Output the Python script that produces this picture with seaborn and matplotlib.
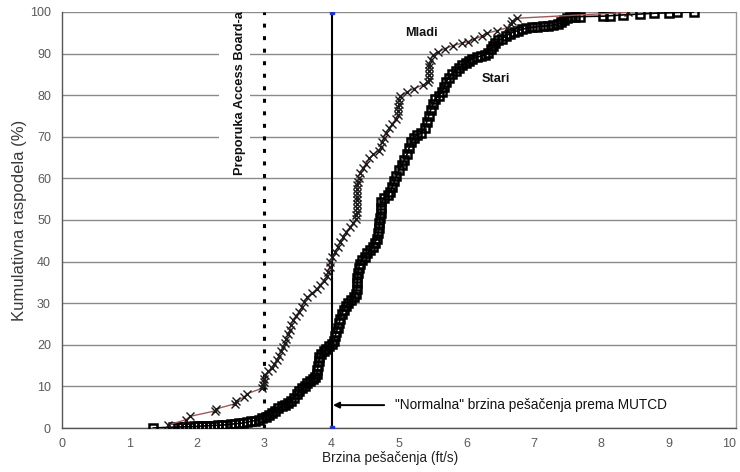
import matplotlib
matplotlib.use("Agg")
import matplotlib.pyplot as plt
from matplotlib.patches import Rectangle
import seaborn as sns
import pandas as pd

# Cumulative walking-speed distribution, older pedestrians ("Stari")
stari_speed = [1.35, 1.65, 1.72, 1.78, 1.84, 1.90, 1.96, 2.02, 2.08, 2.14, 2.20, 2.26, 2.32,
               2.38, 2.44, 2.50, 2.56, 2.62, 2.68, 2.74, 2.80, 2.86, 2.92, 2.97, 3.02, 3.07,
               3.12, 3.16, 3.21, 3.26, 3.31, 3.36, 3.40, 3.44, 3.48, 3.52, 3.56, 3.60, 3.64,
               3.68, 3.72, 3.76, 3.78, 3.79, 3.80, 3.81, 3.82, 3.84, 3.88, 3.92, 3.96, 4.00,
               4.03, 4.05, 4.07, 4.09, 4.11, 4.13, 4.15, 4.18, 4.21, 4.25, 4.29, 4.33, 4.36,
               4.37, 4.38, 4.38, 4.39, 4.40, 4.42, 4.45, 4.49, 4.53, 4.57, 4.61, 4.64, 4.67,
               4.69, 4.70, 4.71, 4.72, 4.73, 4.73, 4.74, 4.78, 4.83, 4.87, 4.90, 4.93, 4.96,
               5.00, 5.04, 5.08, 5.12, 5.15, 5.18, 5.22, 5.27, 5.33, 5.38, 5.41, 5.44, 5.47,
               5.50, 5.54, 5.59, 5.64, 5.67, 5.70, 5.74, 5.79, 5.84, 5.89, 5.94, 5.99, 6.04,
               6.09, 6.15, 6.21, 6.27, 6.32, 6.36, 6.39, 6.42, 6.47, 6.53, 6.59, 6.64, 6.70,
               6.76, 6.82, 6.89, 6.97, 7.05, 7.13, 7.21, 7.29, 7.36, 7.41, 7.45, 7.49, 7.54,
               7.61, 7.69, 8.03, 8.13, 8.33, 8.57, 8.79, 9.00, 9.12, 9.37]
stari_pct = [0.0, 0.2, 0.2, 0.3, 0.3, 0.3, 0.4, 0.4, 0.5, 0.5, 0.6, 0.6, 0.7,
             0.7, 0.8, 0.9, 1.0, 1.1, 1.2, 1.4, 1.6, 1.8, 2.0, 2.3, 2.7, 3.1,
             3.6, 4.1, 4.7, 5.2, 5.6, 5.9, 6.5, 7.3, 8.1, 8.9, 9.5, 10.1, 10.7,
             11.2, 11.7, 12.3, 13.0, 14.0, 15.0, 16.0, 17.0, 17.8, 18.5, 19.1, 19.6, 20.2,
             21.0, 22.0, 23.0, 24.1, 25.2, 26.3, 27.3, 28.4, 29.3, 30.0, 30.7, 31.4, 32.3,
             33.5, 34.8, 36.0, 37.2, 38.4, 39.5, 40.4, 41.2, 42.0, 42.8, 43.6, 44.5, 45.5,
             46.8, 48.0, 49.2, 50.5, 51.8, 53.0, 54.3, 55.2, 55.9, 56.8, 58.0, 59.3, 60.6,
             62.0, 63.2, 64.4, 65.8, 67.3, 68.7, 69.8, 70.5, 71.0, 72.0, 73.5, 75.0, 76.5,
             77.8, 79.0, 79.9, 80.8, 82.0, 83.2, 84.2, 85.0, 85.8, 86.5, 87.2, 87.8, 88.3,
             88.8, 89.1, 89.4, 89.7, 90.2, 91.0, 91.8, 92.6, 93.2, 93.6, 94.2, 94.8, 95.2,
             95.5, 95.8, 96.1, 96.3, 96.5, 96.6, 96.7, 96.8, 97.1, 97.5, 98.1, 98.6, 98.8,
             98.9, 98.9, 99.0, 99.1, 99.3, 99.5, 99.7, 99.8, 99.9, 100.0]

# Cumulative walking-speed distribution, younger pedestrians ("Mladi")
mladi_speed = [1.57, 1.84, 1.90, 2.27, 2.29, 2.56, 2.58, 2.70, 2.74, 2.96, 2.98, 2.99, 3.00,
               3.01, 3.06, 3.11, 3.15, 3.19, 3.22, 3.25, 3.28, 3.31, 3.33, 3.36, 3.38, 3.40,
               3.43, 3.47, 3.52, 3.56, 3.59, 3.64, 3.71, 3.78, 3.83, 3.88, 3.93, 3.95, 3.97,
               3.98, 4.01, 4.05, 4.09, 4.13, 4.17, 4.21, 4.27, 4.32, 4.36, 4.36, 4.37, 4.37,
               4.37, 4.37, 4.38, 4.38, 4.38, 4.38, 4.39, 4.40, 4.42, 4.46, 4.51, 4.56, 4.62,
               4.70, 4.73, 4.75, 4.77, 4.80, 4.85, 4.90, 4.95, 4.98, 4.99, 4.99, 5.00, 5.00,
               5.02, 5.12, 5.22, 5.35, 5.43, 5.44, 5.44, 5.44, 5.45, 5.45, 5.47, 5.50, 5.58,
               5.68, 5.80, 5.93, 6.03, 6.12, 6.23, 6.30, 6.45, 6.60, 6.66, 6.68, 6.75, 8.40]
mladi_pct = [0.7, 2.0, 2.8, 4.1, 4.6, 5.8, 6.5, 7.4, 8.2, 9.5, 10.3, 11.1, 11.9,
             12.7, 13.6, 14.5, 15.4, 16.4, 17.4, 18.4, 19.4, 20.4, 21.4, 22.5, 23.6, 24.8,
             26.0, 27.0, 28.0, 29.2, 30.4, 31.5, 32.4, 33.4, 34.4, 35.4, 36.5, 37.6, 38.7,
             39.8, 41.0, 42.2, 43.4, 44.6, 45.8, 47.0, 48.2, 49.2, 50.2, 51.1, 52.0, 52.9,
             53.8, 54.7, 55.6, 56.5, 57.4, 58.3, 59.2, 60.2, 61.3, 62.4, 63.5, 64.8, 65.8,
             66.6, 67.6, 68.7, 69.8, 70.9, 72.0, 73.0, 74.2, 75.3, 76.2, 77.1, 78.0, 78.9,
             79.8, 80.8, 81.6, 82.4, 83.1, 84.0, 84.9, 85.8, 86.7, 87.6, 88.5, 89.6, 90.4,
             91.2, 91.9, 92.5, 92.9, 93.5, 94.2, 94.9, 95.5, 96.2, 97.0, 97.8, 98.5, 99.9]

x_ticks = list(range(0, 11))
y_ticks = list(range(0, 101, 10))

access_board_speed = 3.0   # recommended design speed, ft/s
mutcd_speed = 4.0          # "normal" MUTCD walking speed, ft/s

sns.set_theme(style="white")
plt.rcParams["font.family"] = ["Liberation Sans", "DejaVu Sans"]

fig = plt.figure(figsize=(7.4, 4.72), dpi=100)
ax = fig.add_axes([0.0838, 0.0932, 0.9108, 0.8814])

stari = pd.DataFrame({"speed": stari_speed, "pct": stari_pct})
mladi = pd.DataFrame({"speed": mladi_speed, "pct": mladi_pct})

sns.lineplot(data=stari, x="speed", y="pct", ax=ax, estimator=None, sort=False,
             color="black", lw=1.2, marker="s", markersize=6,
             markerfacecolor="none", markeredgecolor="black", markeredgewidth=1.8,
             zorder=4)
sns.lineplot(data=mladi, x="speed", y="pct", ax=ax, estimator=None, sort=False,
             color="#a05a58", lw=1.0, marker="x", markersize=6,
             markeredgecolor="#1a1a1a", markeredgewidth=1.0, zorder=5)

# Reference speeds
ax.plot([access_board_speed, access_board_speed], [0, 100], color="black", lw=2.2,
        linestyle=(0, (1.3, 2.8)), zorder=3)
ax.plot([mutcd_speed, mutcd_speed], [0, 100], color="black", lw=1.5, zorder=3)
ax.plot([mutcd_speed, mutcd_speed], [0, 100], ls="none", marker="s", ms=2.5,
        color="#2233cc", zorder=3)

ax.set_xlim(0, 10)
ax.set_ylim(0, 100)
ax.set_xticks(x_ticks)
ax.set_yticks(y_ticks)
ax.set_xticklabels([str(t) for t in x_ticks])
ax.set_yticklabels([str(t) for t in y_ticks])
ax.get_xticklabels()[-1].set_horizontalalignment("right")

ax.yaxis.grid(True, color="#8a8a8a", lw=1.0, zorder=0)
ax.xaxis.grid(False)
ax.set_axisbelow(True)

for side in ["left", "bottom"]:
    ax.spines[side].set_color("#555555")
    ax.spines[side].set_linewidth(1.0)
ax.spines["right"].set_color("#9a9a9a")
ax.spines["right"].set_linewidth(1.0)
ax.spines["top"].set_visible(False)

ax.tick_params(axis="both", which="major", direction="out", length=4, width=1,
               color="#555555", labelsize=9, labelcolor="#5a5a5a")
ax.tick_params(axis="y", pad=4)
ax.tick_params(axis="x", pad=3)

ax.set_xlabel("Brzina pešačenja (ft/s)", fontsize=9.8, color="#222222", x=0.487,
              labelpad=1)
ax.set_ylabel("Kumulativna raspodela (%)", fontsize=12, color="#3a3a3a")
ax.yaxis.set_label_coords(-0.052, 0.5)

# White panel behind the rotated recommendation label
ax.add_patch(Rectangle((2.33, 62), 0.46, 36.5, facecolor="white", edgecolor="none",
                       zorder=1))

ax.text(5.33, 95, "Mladi", fontsize=9.2, fontweight="bold", ha="center", va="center",
        color="#111111", zorder=6)
ax.text(6.22, 84, "Stari", fontsize=9.2, fontweight="bold", ha="left", va="center",
        color="#111111", zorder=6)
ax.text(2.64, 80.5, "Preporuka Access Board-a", rotation=90, fontsize=9.3,
        fontweight="bold", ha="center", va="center", color="#111111", zorder=6)

ax.annotate("", xy=(4.02, 5.5), xytext=(4.78, 5.5),
            arrowprops=dict(arrowstyle="-|>", color="black", lw=1.4, mutation_scale=9,
                            shrinkA=0, shrinkB=0), zorder=6)
ax.text(4.94, 5.5, "\"Normalna\" brzina pešačenja prema MUTCD", fontsize=9.8,
        ha="left", va="center", color="#111111", zorder=6)

fig.savefig("out.png", dpi=100, facecolor="white")
